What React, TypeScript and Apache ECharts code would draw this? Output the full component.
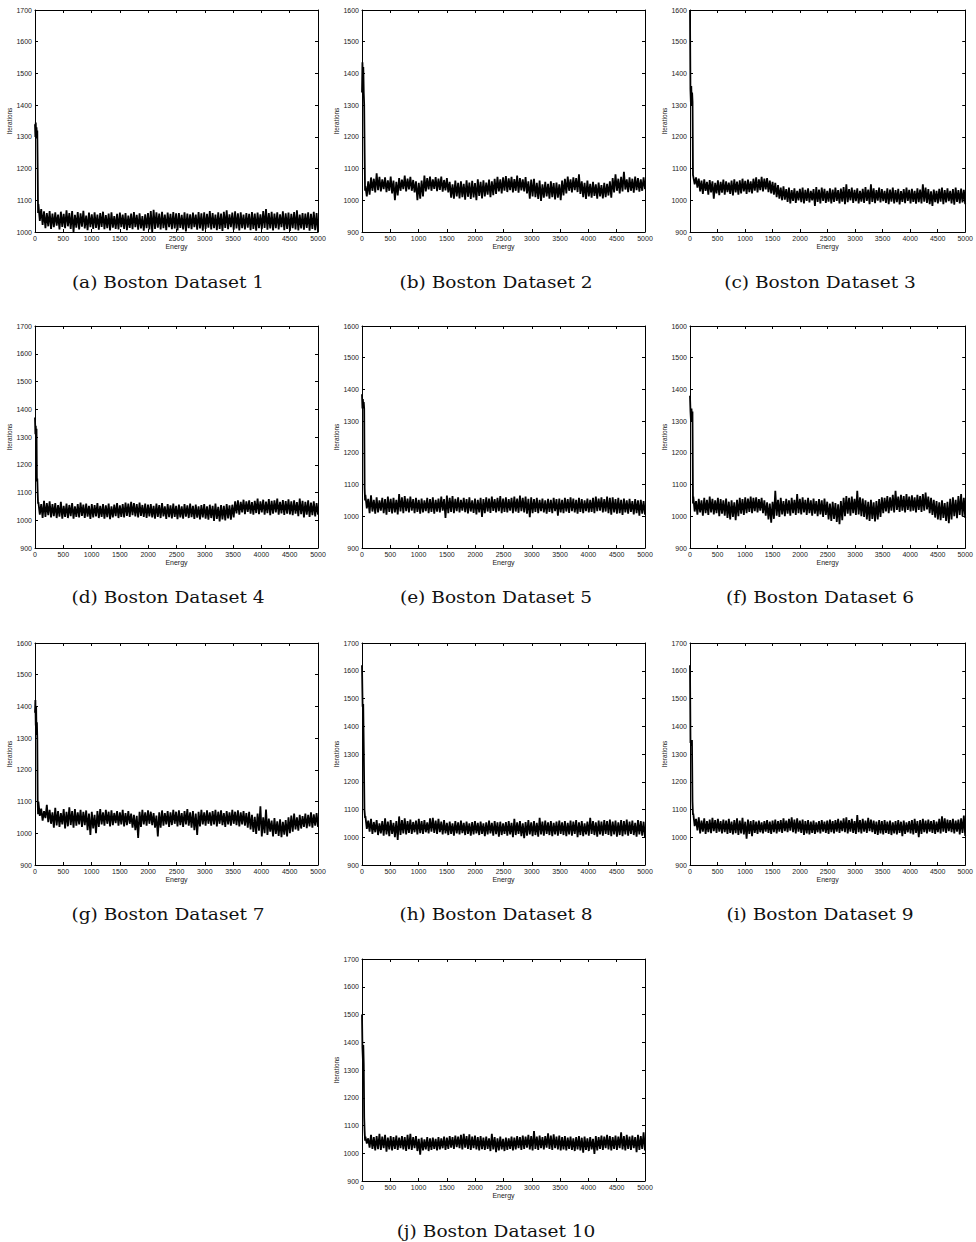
import React, { useEffect, useRef } from "react";
import * as echarts from "echarts";

// Subfigure captions and y-axis ranges
const captions = [
  "(a) Boston Dataset 1",
  "(b) Boston Dataset 2",
  "(c) Boston Dataset 3",
  "(d) Boston Dataset 4",
  "(e) Boston Dataset 5",
  "(f) Boston Dataset 6",
  "(g) Boston Dataset 7",
  "(h) Boston Dataset 8",
  "(i) Boston Dataset 9",
  "(j) Boston Dataset 10",
];
const yMins = [1000, 900, 900, 900, 900, 900, 900, 900, 900, 900];
const yMaxs = [1700, 1600, 1600, 1700, 1600, 1600, 1600, 1700, 1700, 1700];

// Each trace: initial burn-in values, then the upper and lower swings of the noisy band
const headA = [1340, 1300, 1345, 1310, 1330, 1295, 1320, 1200, 1060];
const hiA = [
  1088, 1072, 1065, 1060, 1066, 1058, 1062, 1055, 1064, 1057,
  1068, 1060, 1066, 1054, 1063, 1059, 1067, 1052, 1061, 1056,
  1062, 1055, 1060, 1064, 1053, 1058, 1062, 1050, 1057, 1061,
  1055, 1060, 1052, 1058, 1063, 1054, 1059, 1050, 1056, 1060,
  1066, 1070, 1062, 1058, 1064, 1055, 1061, 1057, 1063, 1059,
  1060, 1054, 1062, 1058, 1056, 1061, 1055, 1063, 1059, 1062,
  1057, 1066, 1060, 1055, 1062, 1058, 1064, 1068, 1056, 1061,
  1065, 1059, 1062, 1055, 1060, 1057, 1063, 1058, 1061, 1056,
  1066, 1072, 1060, 1064, 1058, 1062, 1056, 1065, 1059, 1061,
  1057, 1063, 1068, 1055, 1060, 1058, 1062, 1057, 1064, 1060,
];
const loA = [
  1035, 1022, 1012, 1018, 1010, 1015, 1020, 1008, 1016, 1012,
  1018, 1010, 1000, 1014, 1008, 1017, 1011, 1006, 1015, 1010,
  1013, 1007, 1016, 1009, 1012, 1005, 1014, 1010, 1008, 1015,
  1010, 1006, 1013, 1009, 1015, 1007, 1011, 1004, 1012, 1008,
  1000, 1010, 1014, 1008, 1012, 1006, 1015, 1009, 1011, 1005,
  1013, 1008, 1002, 1012, 1009, 1015, 1007, 1011, 1004, 1010,
  1014, 1008, 1012, 1006, 1010, 1003, 1013, 1009, 1015, 1007,
  1011, 1005, 1012, 1008, 1014, 1006, 1010, 1004, 1012, 1009,
  1013, 1007, 1011, 1005, 1012, 1008, 1015, 1006, 1010, 1003,
  1012, 1008, 1005, 1011, 1007, 1013, 1004, 1010, 1006, 1000,
];

const headB = [1340, 1435, 1380, 1420, 1340, 1300, 1150, 1030];
const hiB = [
  1045, 1060, 1072, 1068, 1085, 1074, 1066, 1072, 1063, 1075,
  1062, 1058, 1070, 1065, 1078, 1068, 1074, 1064, 1060, 1055,
  1062, 1078, 1070, 1075, 1066, 1073, 1068, 1075, 1064, 1070,
  1058, 1050, 1062, 1055, 1060, 1052, 1063, 1056, 1061, 1054,
  1066, 1058, 1063, 1056, 1065, 1060, 1068, 1074, 1066, 1072,
  1076, 1069, 1074, 1067, 1078, 1070, 1066, 1073, 1060, 1065,
  1068, 1055, 1062, 1050, 1058, 1052, 1060, 1054, 1056, 1050,
  1062, 1068, 1075, 1066, 1072, 1070, 1082, 1060, 1055, 1062,
  1052, 1058, 1050, 1056, 1048, 1055, 1052, 1060, 1070, 1082,
  1068, 1074, 1090, 1066, 1072, 1068, 1075, 1070, 1066, 1072,
];
const loB = [
  1012, 1018, 1030, 1025, 1032, 1028, 1035, 1026, 1030, 1022,
  1000, 1015, 1030, 1035, 1028, 1034, 1030, 1025, 1000, 1005,
  1012, 1028, 1034, 1030, 1036, 1029, 1033, 1027, 1031, 1025,
  1008, 1005, 1012, 1006, 1010, 1002, 1011, 1004, 1009, 1000,
  1014, 1006, 1012, 1018, 1010, 1016, 1020, 1028, 1022, 1030,
  1026, 1032, 1025, 1030, 1024, 1031, 1028, 1022, 1005, 1012,
  1010, 1004, 998, 1008, 1012, 1005, 1010, 1003, 1008, 1000,
  1015, 1022, 1030, 1025, 1032, 1026, 1020, 1010, 1004, 1012,
  1008, 1014, 1005, 1012, 1006, 1010, 1015, 1008, 1025, 1030,
  1022, 1028, 1034, 1026, 1030, 1024, 1032, 1027, 1030, 1035,
];

const headC = [1600, 1350, 1310, 1360, 1300, 1340, 1310, 1080];
const hiC = [
  1080, 1072, 1068, 1062, 1066, 1058, 1064, 1060, 1055, 1063,
  1058, 1065, 1060, 1056, 1062, 1066, 1059, 1063, 1068, 1061,
  1065, 1060, 1068, 1072, 1066, 1074, 1068, 1070, 1062, 1058,
  1055, 1048, 1040, 1044, 1035, 1040, 1032, 1038, 1030, 1036,
  1040, 1033, 1038, 1030, 1035, 1042, 1034, 1040, 1036, 1030,
  1038, 1034, 1040, 1032, 1037, 1042, 1050, 1035, 1040, 1033,
  1038, 1030, 1036, 1042, 1034, 1050, 1038, 1032, 1040, 1035,
  1030, 1038, 1034, 1040, 1032, 1036, 1029, 1035, 1040, 1033,
  1036, 1030, 1038, 1034, 1050, 1040, 1035, 1028, 1034, 1030,
  1036, 1040, 1032, 1038, 1030, 1035, 1040, 1032, 1037, 1033,
];
const loC = [
  1050, 1040, 1028, 1020, 1030, 1018, 1025, 1005, 1022, 1016,
  1024, 1018, 1026, 1020, 1015, 1025, 1018, 1022, 1028, 1020,
  1026, 1022, 1030, 1025, 1032, 1028, 1034, 1026, 1022, 1018,
  1010, 1005, 1000, 1002, 995, 990, 998, 992, 1000, 994,
  990, 998, 993, 1000, 982, 995, 990, 998, 992, 996,
  990, 995, 998, 990, 996, 988, 994, 1000, 992, 997,
  990, 996, 992, 998, 988, 995, 991, 999, 993, 997,
  992, 988, 996, 990, 994, 987, 995, 991, 998, 990,
  995, 989, 994, 990, 996, 992, 988, 982, 994, 990,
  996, 988, 993, 997, 990, 986, 995, 990, 993, 988,
];

const headD = [1370, 1310, 1340, 1300, 1330, 1140, 1150, 1100, 1060];
const hiD = [
  1065, 1058, 1070, 1062, 1068, 1058, 1062, 1055, 1066, 1052,
  1060, 1055, 1062, 1050, 1058, 1064, 1056, 1060, 1052, 1058,
  1055, 1062, 1052, 1058, 1054, 1060, 1050, 1056, 1062, 1054,
  1058, 1064, 1060, 1066, 1062, 1058, 1064, 1055, 1060, 1056,
  1058, 1052, 1060, 1055, 1062, 1050, 1058, 1054, 1060, 1052,
  1056, 1050, 1058, 1054, 1060, 1052, 1056, 1050, 1055, 1058,
  1050, 1056, 1052, 1060, 1048, 1055, 1052, 1058, 1054, 1056,
  1068, 1072, 1066, 1074, 1068, 1072, 1065, 1070, 1078, 1068,
  1074, 1067, 1076, 1070, 1072, 1078, 1066, 1073, 1069, 1075,
  1068, 1072, 1065, 1078, 1070, 1066, 1072, 1064, 1068, 1062,
];
const loD = [
  1020, 1008, 1012, 1018, 1010, 1015, 1008, 1013, 1006, 1012,
  1008, 1015, 1006, 1012, 1010, 1016, 1008, 1013, 1005, 1010,
  1014, 1008, 1012, 1006, 1011, 1004, 1010, 1015, 1008, 1012,
  1010, 1016, 1012, 1018, 1014, 1010, 1016, 1012, 1008, 1014,
  1010, 1006, 1012, 1008, 1014, 1005, 1011, 1007, 1012, 1004,
  1010, 1006, 1013, 1008, 1011, 1005, 1009, 1003, 1010, 1006,
  1002, 1008, 998, 1005, 996, 1003, 999, 1007, 1002, 1010,
  1025, 1020, 1028, 1022, 1030, 1024, 1020, 1026, 1022, 1028,
  1020, 1026, 1018, 1024, 1028, 1020, 1025, 1019, 1024, 1021,
  1018, 1024, 1015, 1022, 1010, 1020, 1012, 1018, 1014, 1020,
];

const headE = [1385, 1340, 1370, 1345, 1360, 1340, 1090, 1050];
const hiE = [
  1068, 1055, 1066, 1052, 1060, 1050, 1058, 1054, 1062, 1055,
  1058, 1052, 1070, 1060, 1064, 1056, 1062, 1054, 1058, 1052,
  1056, 1050, 1058, 1054, 1060, 1052, 1056, 1062, 1054, 1065,
  1058, 1064, 1055, 1060, 1052, 1058, 1054, 1060, 1050, 1056,
  1052, 1058, 1054, 1060, 1056, 1062, 1054, 1058, 1064, 1056,
  1060, 1054, 1058, 1062, 1056, 1065, 1058, 1062, 1055, 1060,
  1054, 1058, 1052, 1056, 1050, 1055, 1052, 1058, 1054, 1056,
  1052, 1058, 1054, 1060, 1056, 1052, 1058, 1054, 1050, 1056,
  1052, 1058, 1062, 1056, 1060, 1054, 1062, 1058, 1060, 1054,
  1058, 1052, 1056, 1050, 1055, 1048, 1054, 1050, 1052, 1048,
];
const loE = [
  1025, 1010, 1015, 1008, 1012, 1018, 1010, 1005, 1014, 1009,
  1012, 1006, 1015, 1010, 1016, 1012, 1018, 1010, 1014, 1008,
  1012, 1016, 1010, 1014, 1008, 1015, 1012, 1018, 995, 1010,
  1014, 1010, 1016, 1012, 1018, 1013, 1009, 1015, 1011, 1006,
  1012, 998, 1010, 1015, 1011, 1017, 1012, 1016, 1010, 1014,
  1012, 1018, 1010, 1015, 1011, 1016, 1012, 1008, 997, 1010,
  1014, 1010, 1016, 1012, 1008, 1014, 1010, 1016, 1002, 1012,
  1010, 1015, 1011, 1016, 1012, 1008, 1014, 1010, 1016, 1012,
  1014, 1010, 1016, 1018, 1012, 1015, 1010, 1005, 1012, 1008,
  1010, 1004, 1012, 1008, 1014, 1006, 1010, 1002, 1008, 1005,
];

const headF = [1380, 1330, 1300, 1340, 1310, 1330, 1040];
const hiF = [
  1062, 1048, 1055, 1050, 1058, 1052, 1062, 1055, 1050, 1058,
  1054, 1050, 1056, 1046, 1050, 1044, 1052, 1058, 1054, 1060,
  1056, 1062, 1058, 1060, 1054, 1058, 1050, 1044, 1040, 1046,
  1080, 1052, 1058, 1048, 1055, 1050, 1058, 1052, 1070, 1055,
  1060, 1052, 1058, 1050, 1056, 1048, 1054, 1050, 1056, 1046,
  1040, 1046, 1042, 1038, 1048, 1058, 1064, 1058, 1062, 1055,
  1080, 1060, 1056, 1050, 1046, 1052, 1044, 1048, 1054, 1060,
  1058, 1064, 1060, 1068, 1080, 1062, 1068, 1064, 1070, 1062,
  1066, 1060, 1068, 1064, 1070, 1075, 1062, 1058, 1052, 1048,
  1044, 1050, 1042, 1046, 1055, 1060, 1052, 1064, 1070, 1058,
];
const loF = [
  1015, 1005, 1012, 1002, 1010, 1004, 1012, 1006, 1010, 1000,
  1008, 1002, 995, 990, 998, 988, 1000, 1008, 1004, 1010,
  1014, 1010, 1016, 1012, 1018, 1010, 1002, 990, 980, 992,
  1002, 998, 1006, 1000, 1008, 1002, 1010, 1004, 1010, 1006,
  1012, 1004, 1010, 1002, 1008, 1000, 1006, 998, 1004, 990,
  985, 992, 982, 975, 988, 1000, 1008, 1002, 1010, 1004,
  1006, 1000, 998, 990, 985, 992, 984, 990, 998, 1010,
  1015, 1010, 1018, 1012, 1020, 1014, 1018, 1012, 1020, 1015,
  1018, 1012, 1020, 1014, 1018, 1022, 1010, 1004, 996, 990,
  988, 995, 985, 978, 990, 1000, 994, 1004, 1000, 995,
];

const headG = [1380, 1420, 1340, 1400, 1310, 1350, 1300, 1100, 1060];
const hiG = [
  1100, 1078, 1070, 1090, 1074, 1066, 1080, 1070, 1064, 1076,
  1068, 1082, 1070, 1076, 1066, 1074, 1068, 1072, 1062, 1068,
  1058, 1070, 1076, 1066, 1074, 1068, 1072, 1064, 1070, 1066,
  1074, 1064, 1070, 1062, 1058, 1055, 1068, 1074, 1066, 1072,
  1068, 1064, 1056, 1066, 1072, 1064, 1070, 1066, 1074, 1068,
  1072, 1064, 1070, 1076, 1066, 1070, 1062, 1068, 1074, 1066,
  1072, 1066, 1070, 1074, 1068, 1072, 1064, 1070, 1066, 1074,
  1068, 1072, 1066, 1070, 1064, 1068, 1058, 1052, 1062, 1085,
  1050, 1075, 1046, 1040, 1048, 1038, 1044, 1036, 1042, 1050,
  1056, 1062, 1050, 1058, 1054, 1062, 1058, 1066, 1060, 1064,
];
const loG = [
  1055, 1040, 1048, 1035, 1030, 1018, 1025, 1020, 1028, 1015,
  1022, 1026, 1018, 1024, 1028, 1020, 1026, 1010, 995, 1015,
  1000, 1020, 1028, 1024, 1030, 1022, 1026, 1032, 1024, 1028,
  1022, 1026, 1030, 1018, 1010, 985, 1020, 1028, 1024, 1030,
  1026, 1018, 990, 1018, 1024, 1028, 1020, 1026, 1030, 1022,
  1026, 1020, 1028, 1024, 1018, 1010, 995, 1022, 1028, 1024,
  1030, 1024, 1028, 1022, 1030, 1026, 1020, 1028, 1024, 1030,
  1026, 1022, 1028, 1024, 1018, 1012, 1004, 998, 1008, 990,
  1000, 995, 1005, 990, 998, 992, 988, 996, 990, 1000,
  1005, 1012, 1008, 1015, 1020, 1016, 1022, 1018, 1024, 1020,
];

const headH = [1620, 1470, 1480, 1300, 1100, 1070];
const hiH = [
  1076, 1060, 1066, 1055, 1062, 1050, 1058, 1068, 1056, 1062,
  1052, 1058, 1075, 1062, 1068, 1058, 1064, 1055, 1060, 1066,
  1058, 1062, 1054, 1068, 1070, 1060, 1066, 1056, 1062, 1052,
  1056, 1050, 1058, 1054, 1060, 1052, 1056, 1050, 1055, 1058,
  1052, 1056, 1050, 1054, 1060, 1052, 1058, 1054, 1056, 1050,
  1055, 1058, 1052, 1066, 1054, 1058, 1050, 1055, 1062, 1054,
  1058, 1052, 1070, 1056, 1060, 1054, 1058, 1052, 1056, 1060,
  1054, 1058, 1052, 1060, 1056, 1062, 1054, 1058, 1050, 1056,
  1070, 1058, 1054, 1060, 1056, 1062, 1058, 1064, 1056, 1060,
  1054, 1062, 1058, 1064, 1056, 1060, 1052, 1062, 1058, 1056,
];
const loH = [
  1030, 1020, 1012, 1018, 1008, 1014, 1006, 1010, 1004, 1012,
  1000, 990, 1008, 1014, 1010, 1016, 1012, 1018, 1010, 1015,
  1012, 1018, 1014, 1020, 1016, 1012, 1018, 1010, 1014, 1008,
  1012, 1006, 1014, 1010, 1015, 1008, 1012, 1006, 1010, 1014,
  1008, 1012, 1004, 1010, 1014, 1006, 1011, 1002, 1008, 1012,
  1006, 1010, 1000, 1008, 1012, 1004, 997, 1006, 1010, 1004,
  1008, 1002, 1010, 1006, 1012, 1008, 1004, 1010, 1006, 1012,
  1008, 1004, 1010, 1006, 1012, 1000, 1008, 1004, 1010, 1006,
  1012, 1008, 1002, 1010, 1006, 1012, 1008, 1004, 1010, 1002,
  1008, 1004, 1010, 1006, 1012, 1008, 1002, 1010, 1006, 1000,
];

const headI = [1620, 1340, 1350, 1330, 1350, 1130, 1080];
const hiI = [
  1085, 1066, 1072, 1060, 1068, 1058, 1064, 1070, 1062, 1066,
  1058, 1064, 1060, 1066, 1056, 1062, 1068, 1060, 1070, 1056,
  1064, 1058, 1062, 1056, 1060, 1054, 1058, 1062, 1056, 1060,
  1064, 1058, 1062, 1068, 1060, 1066, 1072, 1064, 1068, 1060,
  1064, 1058, 1062, 1056, 1060, 1054, 1058, 1062, 1056, 1060,
  1064, 1058, 1062, 1066, 1060, 1068, 1072, 1062, 1066, 1058,
  1080, 1062, 1066, 1060, 1070, 1064, 1060, 1056, 1062, 1058,
  1062, 1056, 1060, 1054, 1058, 1062, 1056, 1060, 1054, 1058,
  1062, 1066, 1058, 1062, 1066, 1060, 1064, 1058, 1062, 1056,
  1066, 1075, 1068, 1064, 1062, 1066, 1060, 1064, 1068, 1078,
];
const loI = [
  1040, 1025, 1014, 1020, 1012, 1018, 1015, 1022, 1016, 1020,
  1014, 1018, 1012, 1016, 1010, 1015, 1008, 1014, 1010, 995,
  1012, 1004, 1016, 1012, 1018, 1014, 1020, 1016, 1012, 1018,
  1014, 1020, 1016, 1022, 1018, 1024, 1018, 1014, 1020, 1016,
  1008, 1014, 1010, 1016, 1012, 1018, 1014, 1020, 1016, 1012,
  1018, 1014, 1020, 1016, 1022, 1018, 1014, 1020, 1016, 1012,
  1018, 1014, 1020, 1016, 1022, 1018, 1012, 1008, 1014, 1010,
  1016, 1012, 1008, 1014, 1010, 1016, 1004, 1012, 1018, 1014,
  1010, 1016, 1000, 1012, 1018, 1014, 1020, 1016, 1012, 1018,
  1014, 1020, 1016, 1022, 1018, 1014, 1020, 1010, 1016, 1005,
];

const headJ = [1500, 1380, 1340, 1390, 1320, 1130, 1080, 1045];
const hiJ = [
  1060, 1054, 1066, 1058, 1062, 1070, 1060, 1066, 1056, 1062,
  1058, 1064, 1056, 1062, 1058, 1066, 1070, 1058, 1062, 1052,
  1056, 1050, 1058, 1054, 1056, 1052, 1058, 1054, 1060, 1056,
  1062, 1058, 1064, 1060, 1066, 1070, 1062, 1068, 1060, 1064,
  1058, 1062, 1056, 1060, 1054, 1070, 1058, 1054, 1060, 1052,
  1056, 1054, 1060, 1056, 1062, 1058, 1064, 1060, 1066, 1062,
  1080, 1060, 1064, 1058, 1062, 1072, 1064, 1068, 1060, 1064,
  1058, 1062, 1056, 1060, 1054, 1058, 1062, 1056, 1060, 1054,
  1058, 1052, 1062, 1058, 1064, 1060, 1066, 1062, 1058, 1064,
  1060, 1075, 1062, 1066, 1060, 1064, 1058, 1066, 1062, 1075,
];
const loJ = [
  1035, 1020, 1016, 1010, 1015, 1012, 1018, 1006, 1014, 1010,
  1016, 1012, 1018, 1014, 1008, 1015, 1012, 1018, 1008, 995,
  1010, 1014, 1008, 1012, 1016, 1010, 1014, 1018, 1012, 1016,
  1020, 1016, 1022, 1018, 1014, 1020, 1016, 1012, 1018, 1014,
  1010, 1015, 1012, 1016, 1008, 1014, 1004, 1010, 1014, 1008,
  1012, 1016, 1010, 1014, 1018, 1012, 1016, 1020, 1014, 1010,
  1016, 1012, 1018, 1014, 1020, 1016, 1012, 1018, 1014, 1010,
  1014, 1010, 1016, 1012, 1008, 1014, 1010, 1002, 1012, 1008,
  1014, 998, 1010, 1016, 1012, 1018, 1014, 1010, 1016, 1012,
  1018, 1014, 1010, 1016, 1012, 1018, 1004, 1012, 1016, 1010,
];

const traces = [
  { head: headA, hi: hiA, lo: loA },
  { head: headB, hi: hiB, lo: loB },
  { head: headC, hi: hiC, lo: loC },
  { head: headD, hi: hiD, lo: loD },
  { head: headE, hi: hiE, lo: loE },
  { head: headF, hi: hiF, lo: loF },
  { head: headG, hi: hiG, lo: loG },
  { head: headH, hi: hiH, lo: loH },
  { head: headI, hi: hiI, lo: loI },
  { head: headJ, hi: hiJ, lo: loJ },
];

const X_MAX = 5000;
const BAND_START = 60;

// Burn-in values occupy the first few energy units, then the band alternates high/low swings
function buildTrace(head: number[], hi: number[], lo: number[]): number[][] {
  const pts: number[][] = [];
  const headStep = (BAND_START - 6) / (head.length - 1);
  head.forEach((v, i) => pts.push([i * headStep, v]));
  const n = hi.length * 2;
  const step = (X_MAX - BAND_START) / (n - 1);
  for (let i = 0; i < hi.length; i++) {
    pts.push([BAND_START + 2 * i * step, hi[i]]);
    pts.push([BAND_START + (2 * i + 1) * step, lo[i]]);
  }
  return pts;
}

// Panel layout (pixels)
const colLeft = [35, 362, 690];
const colWidth = [283, 283, 284];
const rowTop = [10, 326, 643, 959];
const plotHeight = 222;
const captionX = [168, 496, 820];
const captionY = [282, 597, 914, 1231];

function slotOf(p: number) {
  if (p === 9) return { row: 3, col: 1 };
  return { row: Math.floor(p / 3), col: p % 3 };
}

const tickFont = "Liberation Sans, Arial, Helvetica, sans-serif";
const plain = (v: number) => String(v);

export default function App() {
  const ref = useRef<HTMLDivElement>(null);

  useEffect(() => {
    if (!ref.current) return;
    const chart = echarts.init(ref.current, undefined, { renderer: "svg" });

    const grids: any[] = [];
    const xAxes: any[] = [];
    const yAxes: any[] = [];
    const series: any[] = [];
    const graphics: any[] = [];

    const axisLine = { show: true, onZero: false, lineStyle: { color: "#000", width: 1 } };
    const tick = { show: true, inside: true, length: 3, lineStyle: { color: "#000", width: 1 } };
    const labelStyle = { fontFamily: tickFont, fontSize: 7, color: "#222", margin: 3, formatter: plain };

    traces.forEach((t, p) => {
      const { row, col } = slotOf(p);
      grids.push({
        left: colLeft[col],
        top: rowTop[row],
        width: colWidth[col],
        height: plotHeight,
        containLabel: false,
      });
      const xBase = {
        type: "value",
        gridIndex: p,
        min: 0,
        max: X_MAX,
        interval: 500,
        splitLine: { show: false },
        axisLine,
        axisTick: tick,
      };
      xAxes.push({
        ...xBase,
        position: "bottom",
        name: "Energy",
        nameLocation: "middle",
        nameGap: 11,
        nameTextStyle: { fontFamily: tickFont, fontSize: 7, color: "#222" },
        axisLabel: { show: true, ...labelStyle },
      });
      xAxes.push({ ...xBase, position: "top", axisLabel: { show: false } });

      const yBase = {
        type: "value",
        gridIndex: p,
        min: yMins[p],
        max: yMaxs[p],
        interval: 100,
        splitLine: { show: false },
        axisLine,
        axisTick: tick,
      };
      yAxes.push({
        ...yBase,
        position: "left",
        name: "Iterations",
        nameLocation: "middle",
        nameGap: 19,
        nameTextStyle: { fontFamily: tickFont, fontSize: 6.5, color: "#222" },
        axisLabel: { show: true, ...labelStyle },
      });
      yAxes.push({ ...yBase, position: "right", axisLabel: { show: false } });

      series.push({
        type: "line",
        xAxisIndex: 2 * p,
        yAxisIndex: 2 * p,
        data: buildTrace(t.head, t.hi, t.lo),
        showSymbol: false,
        symbol: "none",
        clip: true,
        silent: true,
        lineStyle: { color: "#000", width: 1.8, join: "miter" },
      });

      graphics.push({
        type: "text",
        x: captionX[col],
        y: captionY[row],
        scaleX: 1.16,
        style: {
          text: captions[p],
          fontFamily: "DejaVu Serif, serif",
          fontSize: 16,
          fill: "#111",
          align: "center",
          verticalAlign: "middle",
        },
      });
    });

    chart.setOption({
      animation: false,
      backgroundColor: "#fff",
      grid: grids,
      xAxis: xAxes,
      yAxis: yAxes,
      series,
      graphic: graphics,
    });

    return () => chart.dispose();
  }, []);

  return (
    <div
      ref={ref}
      style={{ position: "absolute", left: 0, top: 0, width: 976, height: 1242 }}
    />
  );
}
